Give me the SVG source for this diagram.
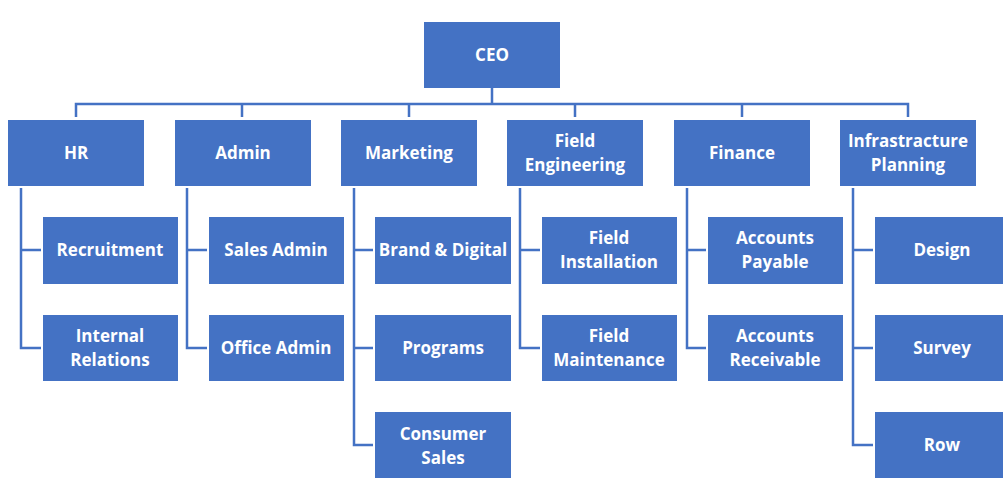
<svg xmlns="http://www.w3.org/2000/svg" width="1003" height="487" viewBox="0 0 1003 487">
<style>
rect{fill:#4472C4}
text{font-family:"Open Sans","Liberation Sans",sans-serif;font-weight:bold;font-size:17px;fill:#fff;text-anchor:middle}
#connectors path{fill:none;stroke:#4472C4;stroke-width:2.5}
</style>
<rect width="1003" height="487" style="fill:#fff"/>
<g id="connectors">
<path d="M492 88V104M76 117V104H908V117M242 104V117M409 104V117M575 104V117M742 104V117"/>
<path d="M21 188V348H41M21 250H41"/>
<path d="M187 188V348H207M187 250H207"/>
<path d="M354 188V445H373M354 250H373M354 348H373"/>
<path d="M520 188V348H540M520 250H540"/>
<path d="M687 188V348H706M687 250H706"/>
<path d="M853 188V445H873M853 250H873M853 348H873"/>
</g>
<g id="ceo"><rect x="424" y="22" width="136" height="66"/><text x="492" y="61">CEO</text></g>
<g id="hr"><rect x="8" y="120" width="136" height="66"/><text x="76" y="159">HR</text></g>
<g id="admin"><rect x="175" y="120" width="136" height="66"/><text x="243" y="159">Admin</text></g>
<g id="marketing"><rect x="341" y="120" width="136" height="66"/><text x="409" y="159">Marketing</text></g>
<g id="fieldeng"><rect x="507" y="120" width="136" height="66"/><text x="575" y="147">Field</text><text x="575" y="171">Engineering</text></g>
<g id="finance"><rect x="674" y="120" width="136" height="66"/><text x="742" y="159">Finance</text></g>
<g id="infra"><rect x="840" y="120" width="136" height="66"/><text x="908" y="147">Infrastracture</text><text x="908" y="171">Planning</text></g>
<g id="recruitment"><rect x="43" y="217" width="135" height="67"/><text x="110" y="256">Recruitment</text></g>
<g id="internal"><rect x="43" y="315" width="135" height="66"/><text x="110" y="342">Internal</text><text x="110" y="366">Relations</text></g>
<g id="salesadmin"><rect x="209" y="217" width="135" height="67"/><text x="276" y="256">Sales Admin</text></g>
<g id="officeadmin"><rect x="209" y="315" width="135" height="66"/><text x="276" y="354">Office Admin</text></g>
<g id="brand"><rect x="375" y="217" width="136" height="67"/><text x="443" y="256">Brand &amp; Digital</text></g>
<g id="programs"><rect x="375" y="315" width="136" height="66"/><text x="443" y="354">Programs</text></g>
<g id="consumer"><rect x="375" y="412" width="136" height="66"/><text x="443" y="440">Consumer</text><text x="443" y="464">Sales</text></g>
<g id="fieldinst"><rect x="542" y="217" width="135" height="67"/><text x="609" y="244">Field</text><text x="609" y="268">Installation</text></g>
<g id="fieldmaint"><rect x="542" y="315" width="135" height="66"/><text x="609" y="342">Field</text><text x="609" y="366">Maintenance</text></g>
<g id="ap"><rect x="708" y="217" width="135" height="67"/><text x="775" y="244">Accounts</text><text x="775" y="268">Payable</text></g>
<g id="ar"><rect x="708" y="315" width="135" height="66"/><text x="775" y="342">Accounts</text><text x="775" y="366">Receivable</text></g>
<g id="design"><rect x="875" y="217" width="128" height="67"/><text x="942" y="256">Design</text></g>
<g id="survey"><rect x="875" y="315" width="128" height="66"/><text x="942" y="354">Survey</text></g>
<g id="row"><rect x="875" y="412" width="128" height="66"/><text x="942" y="451">Row</text></g>
</svg>
